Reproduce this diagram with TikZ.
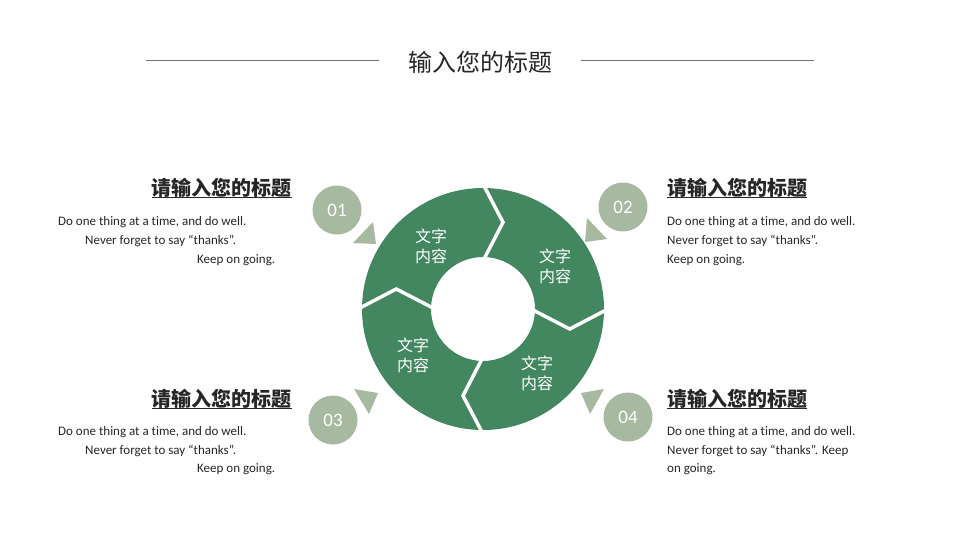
\documentclass[tikz,border=0pt]{standalone}
\usepackage{fontspec}
\setmainfont{Carlito}[Ligatures=NoCommon]
\newfontfamily\cjk{Noto Sans CJK SC}
\usetikzlibrary{calc}

\definecolor{ringgreen}{HTML}{428760}
\definecolor{sage}{HTML}{A7B9A1}

\begin{document}
\begin{tikzpicture}[x=1pt, y=-1pt, font=\fontsize{13}{15}\selectfont,
    numcirc/.style={circle, fill=sage, minimum size=49pt, inner sep=0pt, text=white, font=\fontsize{19}{20}\selectfont},
    seglabel/.style={text=white, align=center, font=\cjk\fontsize{16}{20}\selectfont},
    heading/.style={inner sep=0pt, text=black!85, font=\cjk\bfseries\fontsize{20}{22}\selectfont},
    bodyline/.style={inner sep=0pt, anchor=base west, text=black!85},
    pointer/.style={fill=sage},
    gap/.style={white, line width=3.5pt, line join=miter}]
    % ================= Parameters =================
    \def\Rout{121}   % outer radius of the ring
    \def\Rin{52}     % inner radius of the ring
    \def\Rtip{89}    % radius of the chevron tips
    \def\lag{13}     % angular offset of the chevron tips

    \path[use as bounding box] (0,0) rectangle (960,540);
    \coordinate (O) at (483,309);

    % ================= Title =================
    \node[font=\cjk\fontsize{24}{26}\selectfont, text=black!85] (title) at (480,62) {输入您的标题};
    \draw[black!55, line width=0.8pt] (146,60) -- (379,60);
    \draw[black!55, line width=0.8pt] (581,60) -- (814,60);

    % ================= Ring =================
    \begin{scope}[shift={(O)}, yscale=-1]
        \fill[ringgreen, even odd rule] (0,0) circle (\Rout pt) (0,0) circle (\Rin pt);
        % chevron gaps between the four parts
        \foreach \b in {90,0,-90,180}
            \draw[gap] (\b:{\Rin-4}) -- ({\b-\lag}:\Rtip) -- (\b:{\Rout+4});
    \end{scope}

    % part labels
    \node[seglabel] (s1) at (431,246) {文字\\内容};
    \node[seglabel] (s2) at (555,266) {文字\\内容};
    \node[seglabel] (s3) at (413,355) {文字\\内容};
    \node[seglabel] (s4) at (537,373) {文字\\内容};

    % ================= Number badges & pointers =================
    \node[numcirc] (c1) at (337,210) {01};
    \node[numcirc] (c2) at (623,207) {02};
    \node[numcirc] (c3) at (333,420) {03};
    \node[numcirc] (c4) at (628,417) {04};

    \fill[pointer] (373,222) -- (353,243) -- (376,244) -- cycle;
    \fill[pointer] (587,218) -- (585,242) -- (607,239) -- cycle;
    \fill[pointer] (354,389) -- (378,393) -- (369,414) -- cycle;
    \fill[pointer] (581,393) -- (604,389) -- (590,414) -- cycle;

    % ================= Headings =================
    \node[heading, anchor=base east] (h1) at (292,195) {请输入您的标题};
    \node[heading, anchor=base west] (h2) at (667,195) {请输入您的标题};
    \node[heading, anchor=base east] (h3) at (292,406) {请输入您的标题};
    \node[heading, anchor=base west] (h4) at (667,406) {请输入您的标题};
    \foreach \h in {h1,h2,h3,h4}
        \draw[black!85, line width=1.5pt] ([yshift=-2.5pt]\h.base west) -- ([yshift=-2.5pt]\h.base east);

    % ================= Body text =================
    \node[bodyline] (t1a) at (58,225) {Do one thing at a time, and do well.};
    \node[bodyline] (t1b) at (85,244) {Never forget to say “thanks”.};
    \node[bodyline] (t1c) at (197,263) {Keep on going.};

    \node[bodyline] (t2a) at (667,225) {Do one thing at a time, and do well.};
    \node[bodyline] (t2b) at (667,244) {Never forget to say “thanks”.};
    \node[bodyline] (t2c) at (667,263) {Keep on going.};

    \node[bodyline] (t3a) at (58,435) {Do one thing at a time, and do well.};
    \node[bodyline] (t3b) at (85,454) {Never forget to say “thanks”.};
    \node[bodyline] (t3c) at (197,472) {Keep on going.};

    \node[bodyline] (t4a) at (667,435) {Do one thing at a time, and do well.};
    \node[bodyline] (t4b) at (667,454) {Never forget to say “thanks”. Keep};
    \node[bodyline] (t4c) at (667,472) {on going.};
\end{tikzpicture}
\end{document}
